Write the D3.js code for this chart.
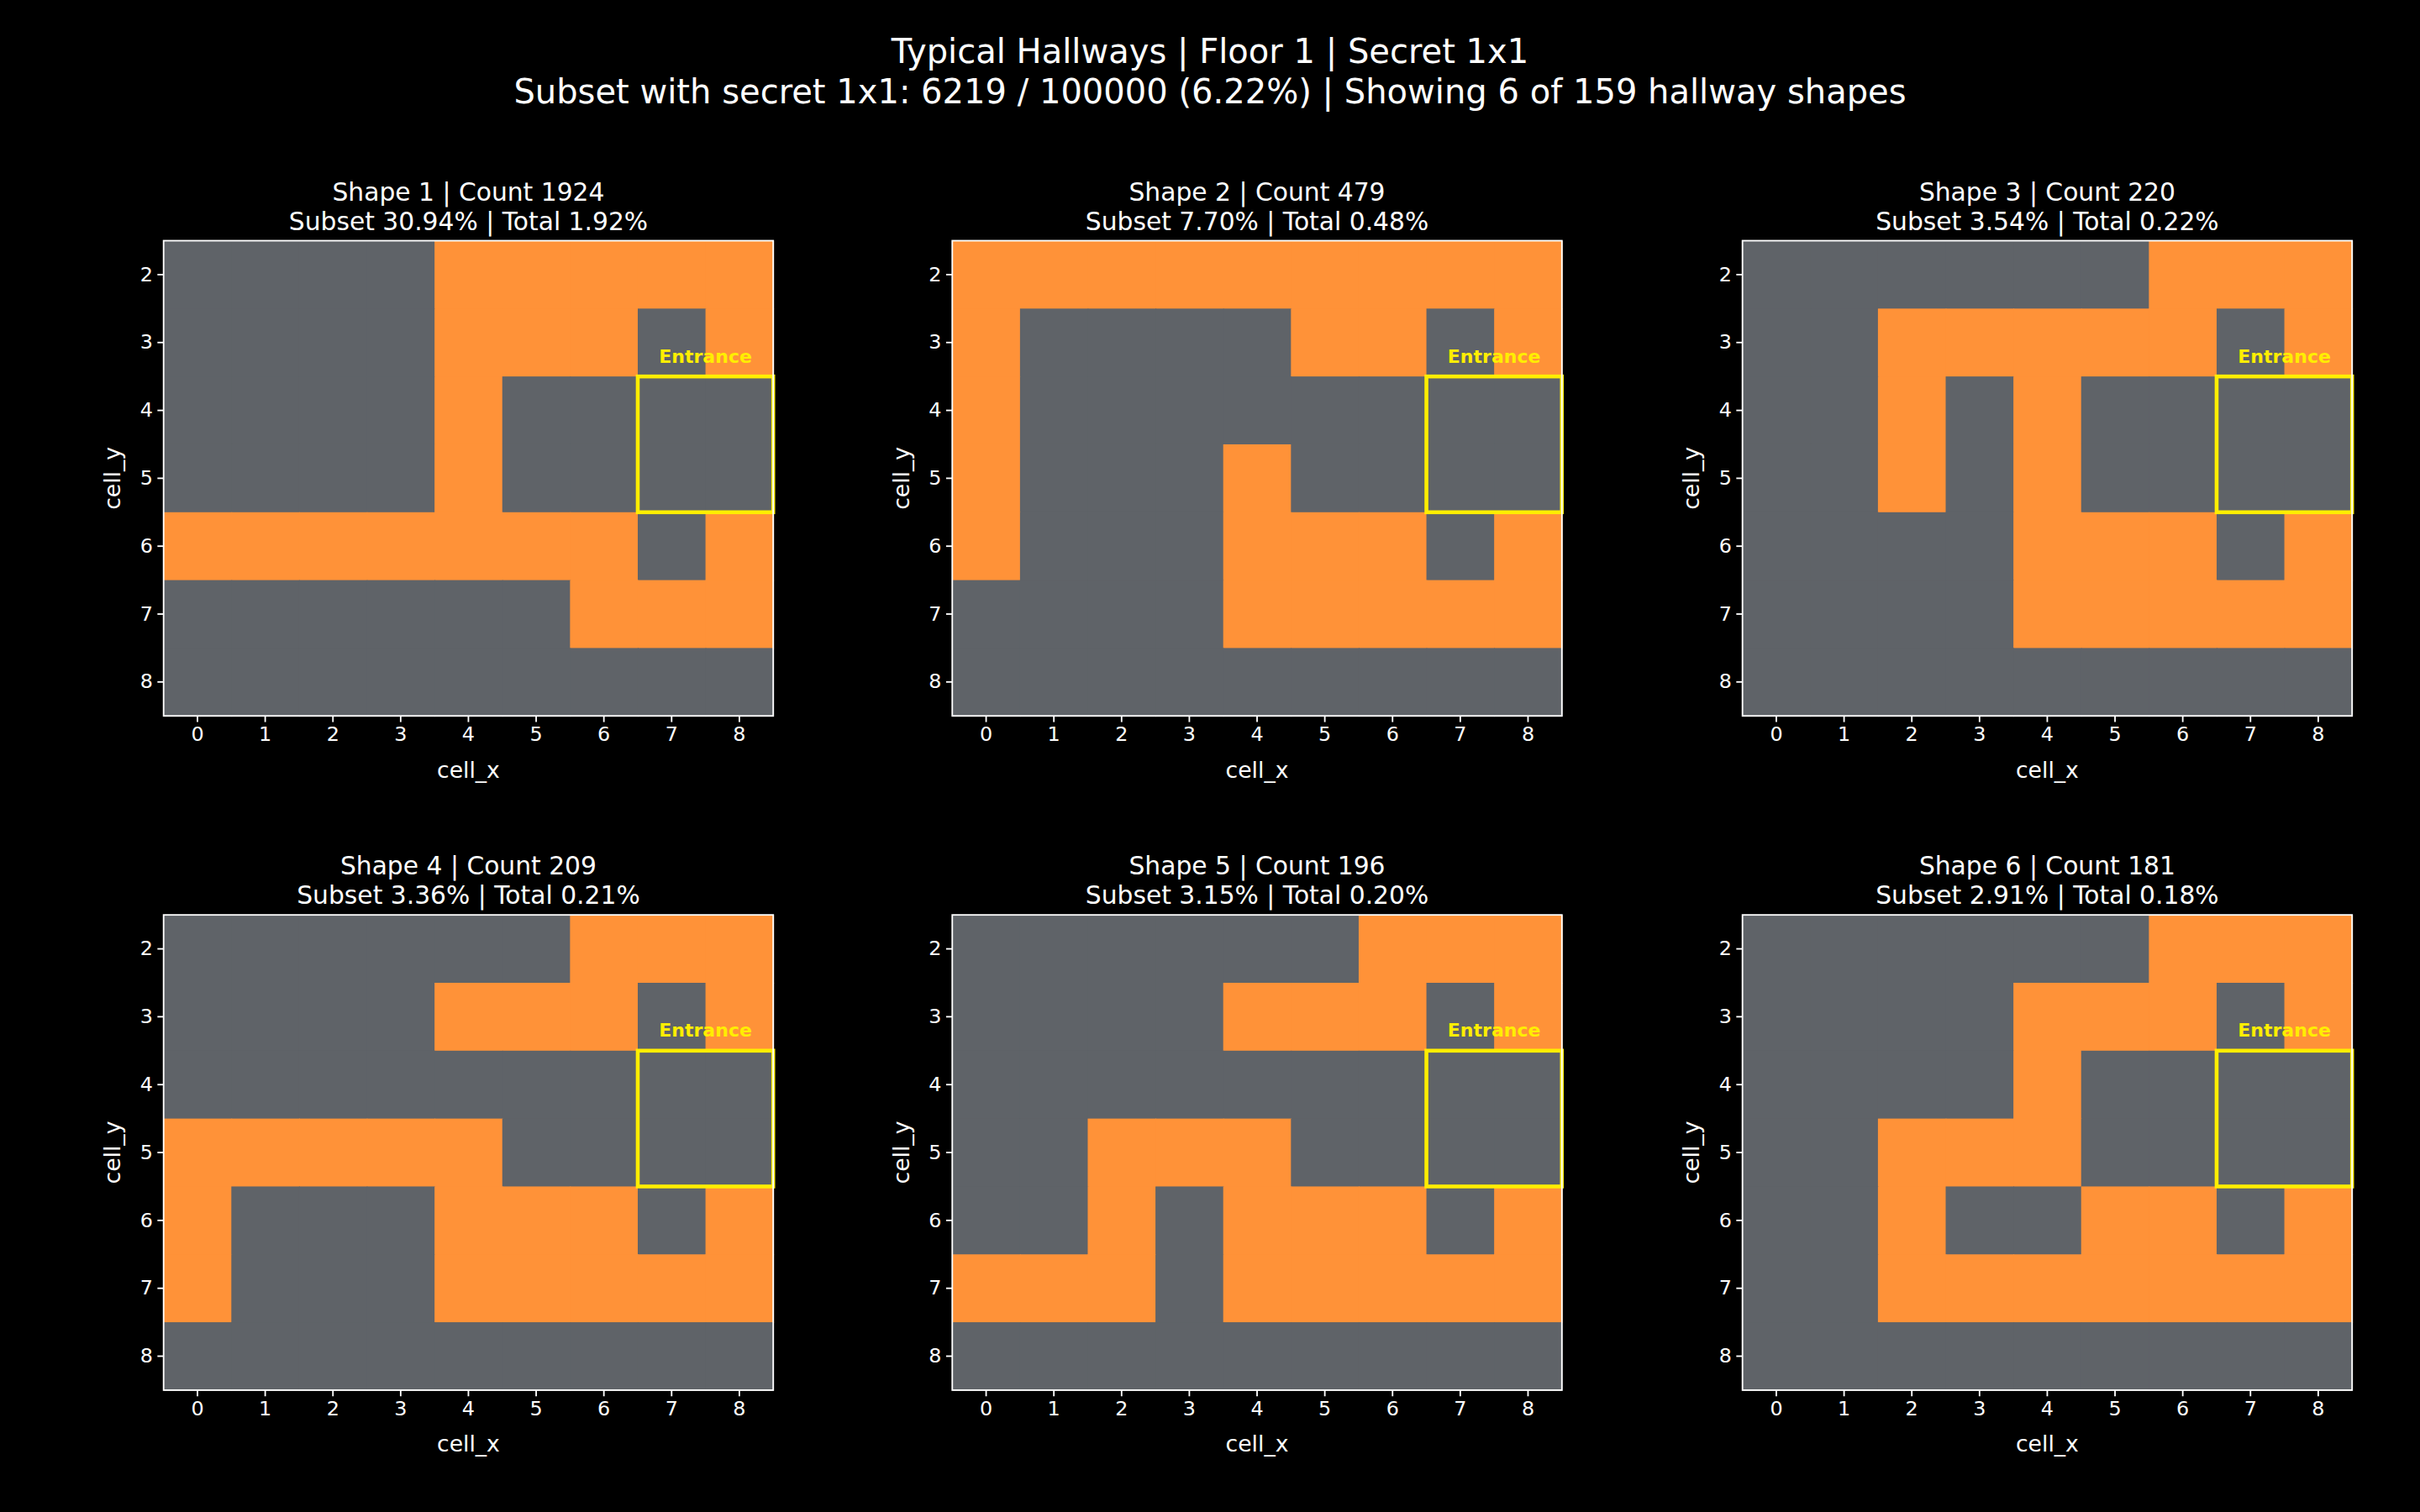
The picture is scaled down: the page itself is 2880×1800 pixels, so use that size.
<!DOCTYPE html>
<html><head><meta charset="utf-8">
<script src="https://cdn.jsdelivr.net/npm/d3@7"></script>
<style>body{margin:0;background:#000}</style></head>
<body><svg id="c" width="2880" height="1800" viewBox="0 0 1568 980"></svg>
<script>
const title1 = "Typical Hallways | Floor 1 | Secret 1x1";
const title2 = "Subset with secret 1x1: 6219 / 100000 (6.22%) | Showing 6 of 159 hallway shapes";
const shapeCounts = [1924, 479, 220, 209, 196, 181];
const subsetPct = ["30.94%", "7.70%", "3.54%", "3.36%", "3.15%", "2.91%"];
const totalPct = ["1.92%", "0.48%", "0.22%", "0.21%", "0.20%", "0.18%"];
const xCells = [0,1,2,3,4,5,6,7,8];
const yCells = [2,3,4,5,6,7,8];
// rows y=2..8, '1' = hallway (orange), '0' = other
const grids = [
 ["000011111","000011101","000010000","000010000","111111101","000000111","000000000"],
 ["111111111","100001101","100000000","100010000","100011101","000011111","000000000"],
 ["000000111","001111101","001010000","001010000","000011101","000011111","000000000"],
 ["000000111","000011101","000000000","111110000","100011101","100011111","000000000"],
 ["000000111","000011101","000000000","001110000","001011101","111011111","000000000"],
 ["000000111","000011101","000010000","001110000","001001101","001111111","000000000"]
];
const entrance = {x0:7, x1:8, y0:4, y1:5};

const svg = d3.select("#c");
svg.append("rect").attr("width",1568).attr("height",980).attr("fill","#000");
const font = "DejaVu Sans";
svg.append("text").attr("x",784).attr("y",41).attr("text-anchor","middle").attr("fill","#fff")
  .attr("font-family",font).attr("font-size",21.8).text(title1);
svg.append("text").attr("x",784).attr("y",67).attr("text-anchor","middle").attr("fill","#fff")
  .attr("font-family",font).attr("font-size",21.8).text(title2);

const colX = [106, 617, 1129], rowY = [156, 593];
const W = 395, H = 308;
grids.forEach((g, i) => {
  const ox = colX[i%3], oy = rowY[Math.floor(i/3)];
  const p = svg.append("g").attr("transform",`translate(${ox},${oy})`);
  const x = d3.scaleBand().domain(xCells).range([0,W]);
  const y = d3.scaleBand().domain(yCells).range([0,H]);
  const cells = [];
  g.forEach((row, ri) => row.split("").forEach((v, ci) => cells.push({x:xCells[ci], y:yCells[ri], v:+v})));
  p.selectAll("rect.c").data(cells).join("rect")
    .attr("x",d=>x(d.x)).attr("y",d=>y(d.y)).attr("width",x.bandwidth()+0.5).attr("height",y.bandwidth()+0.5)
    .attr("fill",d=>d.v ? "#ff9238" : "#5f6368");
  p.append("rect").attr("x",x(entrance.x0)).attr("y",y(entrance.y0))
    .attr("width",x(entrance.x1)+x.bandwidth()-x(entrance.x0)).attr("height",y(entrance.y1)+y.bandwidth()-y(entrance.y0))
    .attr("fill","none").attr("stroke","#ffee00").attr("stroke-width",2.5);
  p.append("text").attr("x",x(entrance.x0)+x.bandwidth()).attr("y",y(entrance.y0)-9)
    .attr("text-anchor","middle").attr("fill","#ffee00").attr("font-family",font).attr("font-weight","bold")
    .attr("font-size",12).text("Entrance");
  p.append("rect").attr("width",W).attr("height",H).attr("fill","none").attr("stroke","#fff").attr("stroke-width",1);
  const xa = p.append("g").attr("transform",`translate(0,${H})`).call(d3.axisBottom(x).tickSizeOuter(0).tickSize(4));
  const ya = p.append("g").call(d3.axisLeft(y).tickSizeOuter(0).tickSize(4));
  [xa,ya].forEach(a=>{a.select(".domain").remove();a.selectAll("line").attr("stroke","#fff");
    a.selectAll("text").attr("fill","#fff").attr("font-family",font).attr("font-size",13);});
  p.append("text").attr("x",W/2).attr("y",H+40).attr("text-anchor","middle").attr("fill","#fff")
    .attr("font-family",font).attr("font-size",14.5).text("cell_x");
  p.append("text").attr("transform",`translate(-28,${H/2}) rotate(-90)`).attr("text-anchor","middle").attr("fill","#fff")
    .attr("font-family",font).attr("font-size",14.5).text("cell_y");
  p.append("text").attr("x",W/2).attr("y",-26).attr("text-anchor","middle").attr("fill","#fff")
    .attr("font-family",font).attr("font-size",16.2).text(`Shape ${i+1} | Count ${shapeCounts[i]}`);
  p.append("text").attr("x",W/2).attr("y",-7).attr("text-anchor","middle").attr("fill","#fff")
    .attr("font-family",font).attr("font-size",16.2).text(`Subset ${subsetPct[i]} | Total ${totalPct[i]}`);
});
</script></body></html>
